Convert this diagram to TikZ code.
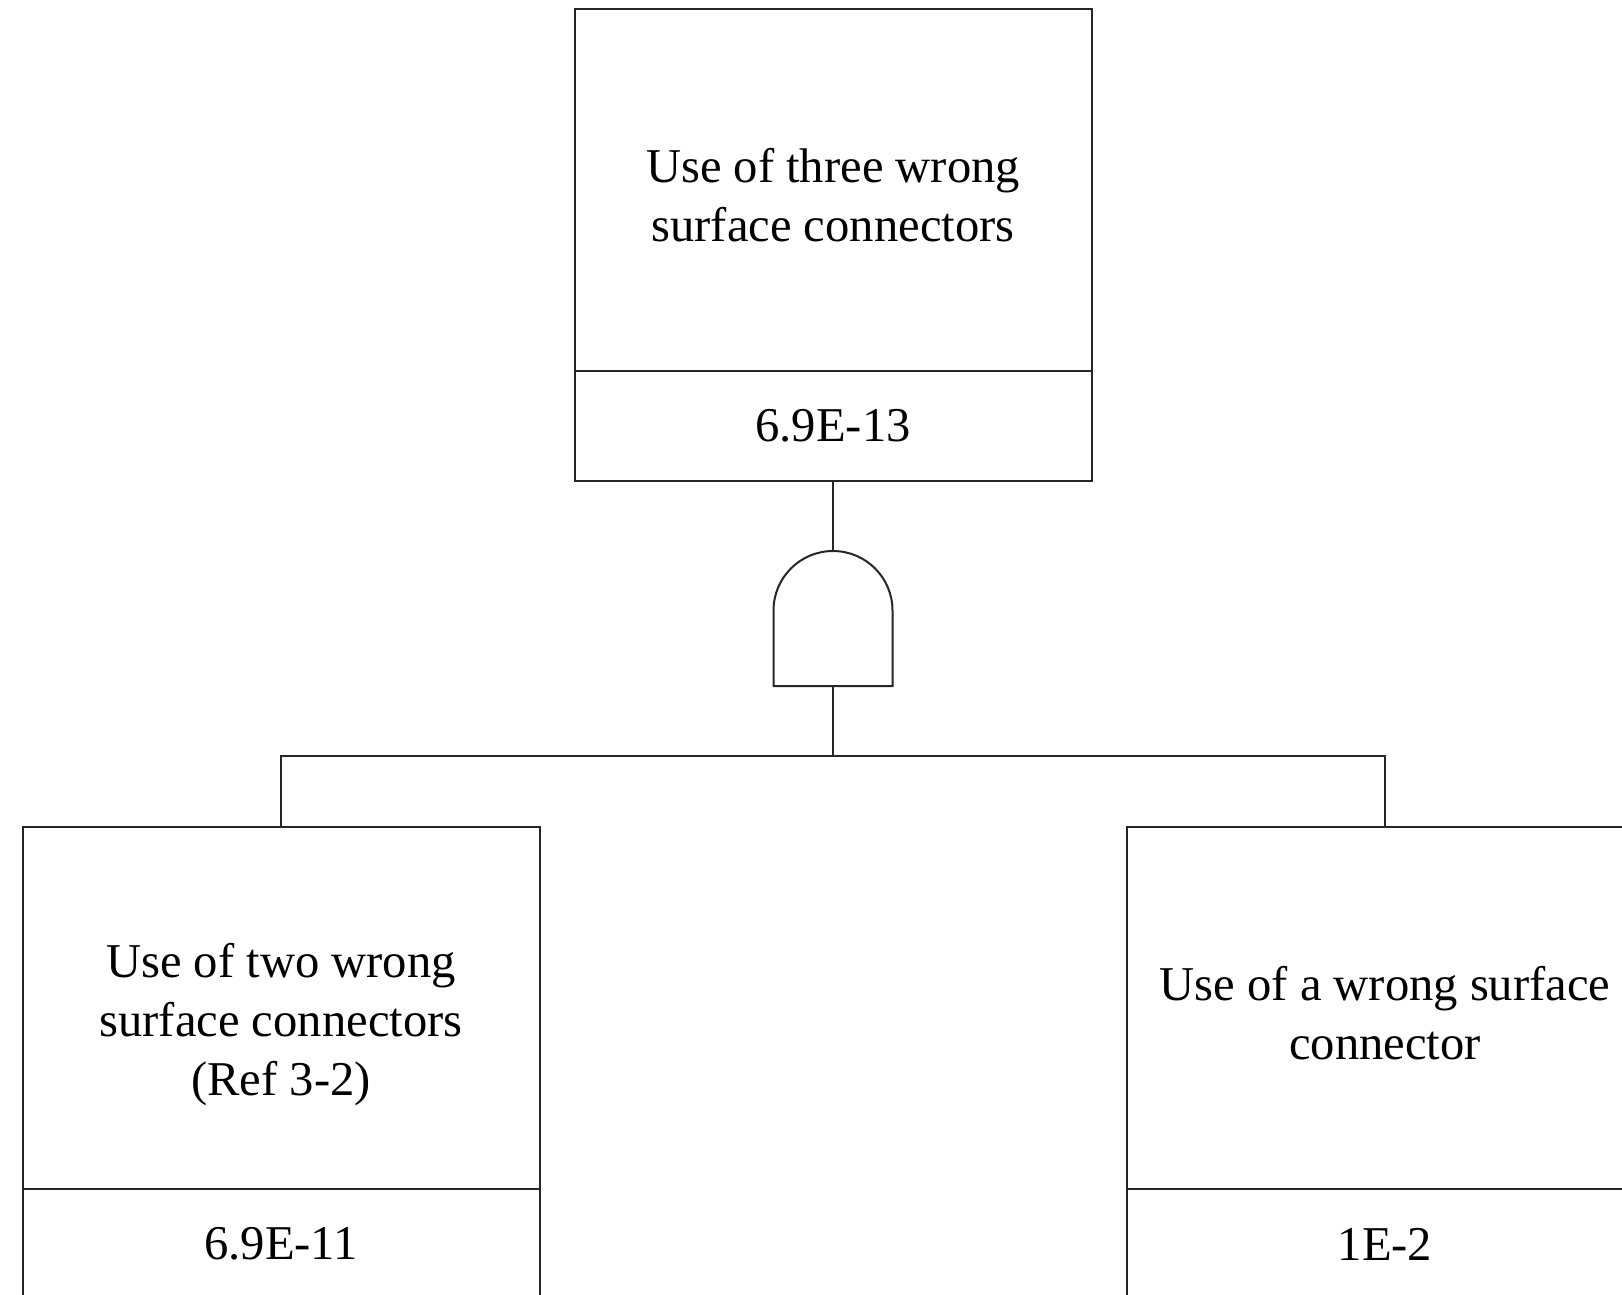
\documentclass[tikz,border=0pt]{standalone}
\usepackage{fontspec}
\setmainfont{Liberation Serif}
\usetikzlibrary{positioning}

\begin{document}
\begin{tikzpicture}[
    x=1pt, y=1pt,
    % Estilos del árbol de fallos
    base/.style = {draw=black!85, line width=2pt, rectangle, align=center, inner sep=2pt, outer sep=0pt,
                   font=\fontsize{48.6}{59}\selectfont, minimum width=517pt},
    evento/.style = {base, minimum height=362pt, text height=104pt},
    prob/.style = {base, minimum height=110pt},
    puerta/.style = {minimum width=119pt, minimum height=135pt, inner sep=0pt, outer sep=0pt},
    linea/.style = {draw=black!85, line width=2pt}
]
\useasboundingbox (0,0) rectangle (1622,-1295);

% ===============================
% 1. Evento superior
% ===============================
\node (top) [evento] at (833,-190) {Use of three wrong\\ surface connectors};
\node (ptop) [prob, below=0pt of top] {6.9E-13};

% ===============================
% 2. Puerta AND
% ===============================
\node (and) [puerta, below=70pt of ptop] {};
\draw [linea] (and.south west) -- ++(0,75.5) arc[start angle=180, end angle=0, radius=59.5] -- (and.south east) -- cycle;

% ===============================
% 3. Eventos básicos
% ===============================
\node (izq) [evento, text height=186pt] at (281,-1008) {Use of two wrong\\ surface connectors\\ (Ref 3-2)};
\node (pizq) [prob, below=0pt of izq] {6.9E-11};

\node (der) [evento] at (1385,-1008) {Use of a wrong surface\\ connector};
\node (pder) [prob, below=0pt of der] {1E-2};

% ===============================
% 4. Conexiones
% ===============================
\coordinate (bus) at (833,-756);
\draw [linea] (ptop) -- (and);
\draw [linea] (and) -- (bus);
\draw [linea] (izq.north) |- (bus) -| (der.north);

\end{tikzpicture}
\end{document}
